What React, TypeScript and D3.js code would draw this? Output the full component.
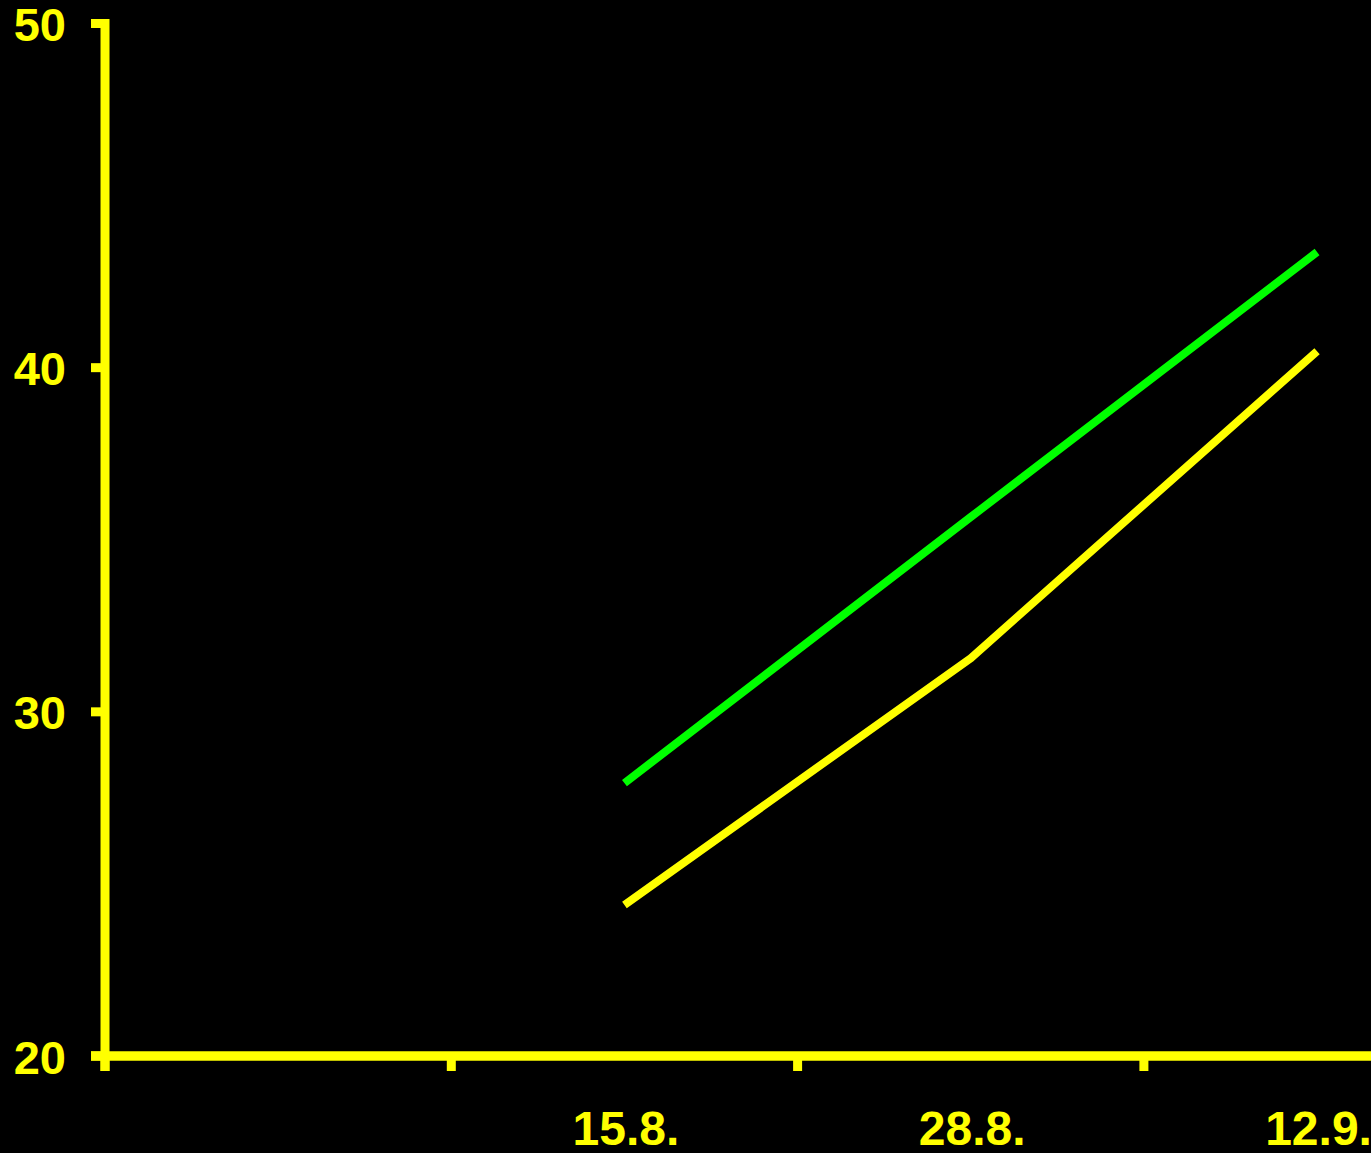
import React from "react";
import * as d3 from "d3";

const categories: string[] = ["", "15.8.", "28.8.", "12.9."];
const greenSeries: (number | null)[] = [null, 27.93, 35.66, 43.36];
const yellowSeries: (number | null)[] = [null, 24.39, 31.56, 40.48];
const yTicks: number[] = [20, 30, 40, 50];

const W = 1371;
const H = 1153;
const YELLOW = "#FFFF00";
const GREEN = "#00FF00";

export default function App() {
  const x = d3.scaleBand<string>().domain(categories.map((c, i) => String(i))).range([105, 105 + 4 * 346.3]).padding(0);
  const y = d3.scaleLinear().domain([20, 50]).range([1056, 23.5]);
  const bw = x.bandwidth();

  const line = d3
    .line<number | null>()
    .defined((d) => d !== null)
    .x((_, i) => (x(String(i)) as number) + bw / 2)
    .y((d) => y(d as number));

  const boundaries = categories.map((_, i) => x(String(i)) as number);
  const x0 = x("0") as number;

  return (
    <div style={{ position: "fixed", left: 0, top: 0, width: W, height: H, background: "#000" }}>
      <svg width={W} height={H} style={{ display: "block" }}>
        <rect x={0} y={0} width={W} height={H} fill="#000" />
        <path d={line(greenSeries) || ""} fill="none" stroke={GREEN} strokeWidth={8} strokeLinecap="butt" strokeLinejoin="round" />
        <path d={line(yellowSeries) || ""} fill="none" stroke={YELLOW} strokeWidth={8} strokeLinecap="butt" strokeLinejoin="round" />
        {/* y axis */}
        <line x1={x0} x2={x0} y1={y(50) - 4.5} y2={1071} stroke={YELLOW} strokeWidth={9} />
        {yTicks.map((t) => (
          <g key={t}>
            <line x1={91} x2={x0} y1={y(t)} y2={y(t)} stroke={YELLOW} strokeWidth={9} />
            <text
              x={66}
              y={y(t) + 17.5}
              textAnchor="end"
              fill={YELLOW}
              fontFamily="'Liberation Sans', Arial, sans-serif"
              fontWeight="bold"
              fontSize={47}
            >
              {t}
            </text>
          </g>
        ))}
        {/* x axis */}
        <line x1={91} x2={W} y1={y(20)} y2={y(20)} stroke={YELLOW} strokeWidth={9.5} />
        {boundaries.map((b, i) => (
          <line key={"t" + i} x1={b} x2={b} y1={y(20)} y2={1071} stroke={YELLOW} strokeWidth={9} />
        ))}
        {categories.map((c, i) => (
          <text
            key={"l" + i}
            x={(x(String(i)) as number) + bw / 2 + 1.5}
            y={1145}
            textAnchor="middle"
            fill={YELLOW}
            fontFamily="'Liberation Sans', Arial, sans-serif"
            fontWeight="bold"
            fontSize={48}
          >
            {c}
          </text>
        ))}
      </svg>
    </div>
  );
}
